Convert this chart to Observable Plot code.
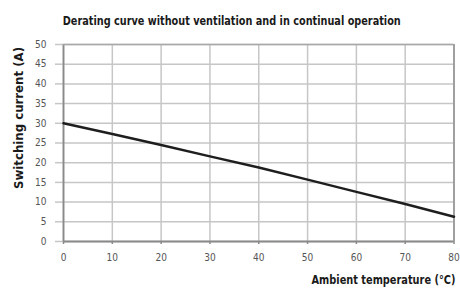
<!DOCTYPE html>
<html><head>
<meta charset="utf-8">
<script src="https://cdn.jsdelivr.net/npm/d3@7"></script>
<script src="https://cdn.jsdelivr.net/npm/@observablehq/plot@0.6"></script>
<style>body{margin:0;background:#fff;} svg{display:block}</style>
</head><body><div id="chart"></div>
<script>
const temperature = [0, 10, 20, 30, 40, 50, 60, 70, 80];
const current = [30, 27.3, 24.5, 21.6, 18.8, 15.7, 12.6, 9.5, 6.3];
const xTicks = [0, 10, 20, 30, 40, 50, 60, 70, 80];
const yTicks = [0, 5, 10, 15, 20, 25, 30, 35, 40, 45, 50];
const title = "Derating curve without ventilation and in continual operation";
const xLabel = "Ambient temperature (°C)";
const yLabel = "Switching current (A)";

const data = temperature.map((t, i) => ({t, c: current[i]}));
const font = "'DejaVu Sans Condensed',sans-serif";
const grid = "#c6c6c6";
const axisCol = "#8a8a8a";

const chart = Plot.plot({
  width: 460, height: 293,
  marginLeft: 63, marginRight: 6.5, marginTop: 44, marginBottom: 52,
  style: {fontFamily: font, fontSize: "10px", color: "#333", background: "#fff"},
  x: {domain: [0, 80], label: null},
  y: {domain: [0, 50], label: null},
  marks: [
    Plot.gridX(xTicks, {stroke: grid, strokeOpacity: 1, strokeWidth: 1.5}),
    Plot.gridY(yTicks, {stroke: grid, strokeOpacity: 1, strokeWidth: 1.5}),
    Plot.axisY(yTicks, {tickSize: 8, tickPadding: 9, stroke: grid, strokeWidth: 1.5, fill: "#555", fontSize: 10, label: null}),
    Plot.axisX(xTicks, {tickSize: 3, tickPadding: 9, stroke: axisCol, strokeWidth: 1.5, fill: "#555", fontSize: 10, label: null}),
    Plot.ruleX([0], {stroke: axisCol, strokeWidth: 1.8}),
    Plot.ruleX([80], {stroke: "#9a9a9a", strokeWidth: 1.8}),
    Plot.ruleY([0], {stroke: axisCol, strokeWidth: 1.8}),
    Plot.ruleY([50], {stroke: "#a8a8a8", strokeWidth: 1.5}),
    Plot.line(data, {x: "t", y: "c", stroke: "#1e1e1e", strokeWidth: 2.5}),
    Plot.text([title], {frameAnchor: "top", textAnchor: "middle", dx: -27, dy: -28, fontWeight: "bold", fontSize: 12.5, fill: "#1a1a1a"}),
    Plot.text([yLabel], {frameAnchor: "left", textAnchor: "middle", rotate: -90, dx: -45, dy: -25, fontWeight: "bold", fontSize: 13, fill: "#1a1a1a"}),
    Plot.text([xLabel], {frameAnchor: "bottom-right", textAnchor: "end", dx: 1.5, dy: 42, fontWeight: "bold", fontSize: 13, fill: "#1a1a1a"})
  ]
});
document.getElementById("chart").append(chart);
// Condense the labels to the reference's narrow typeface widths
const widths = {[title]: 338, [yLabel]: 142, [xLabel]: 144};
chart.querySelectorAll("text").forEach(t => {
  const w = widths[t.textContent];
  if (w) { t.setAttribute("textLength", w); t.setAttribute("lengthAdjust", "spacingAndGlyphs"); }
});
</script>
</body></html>
